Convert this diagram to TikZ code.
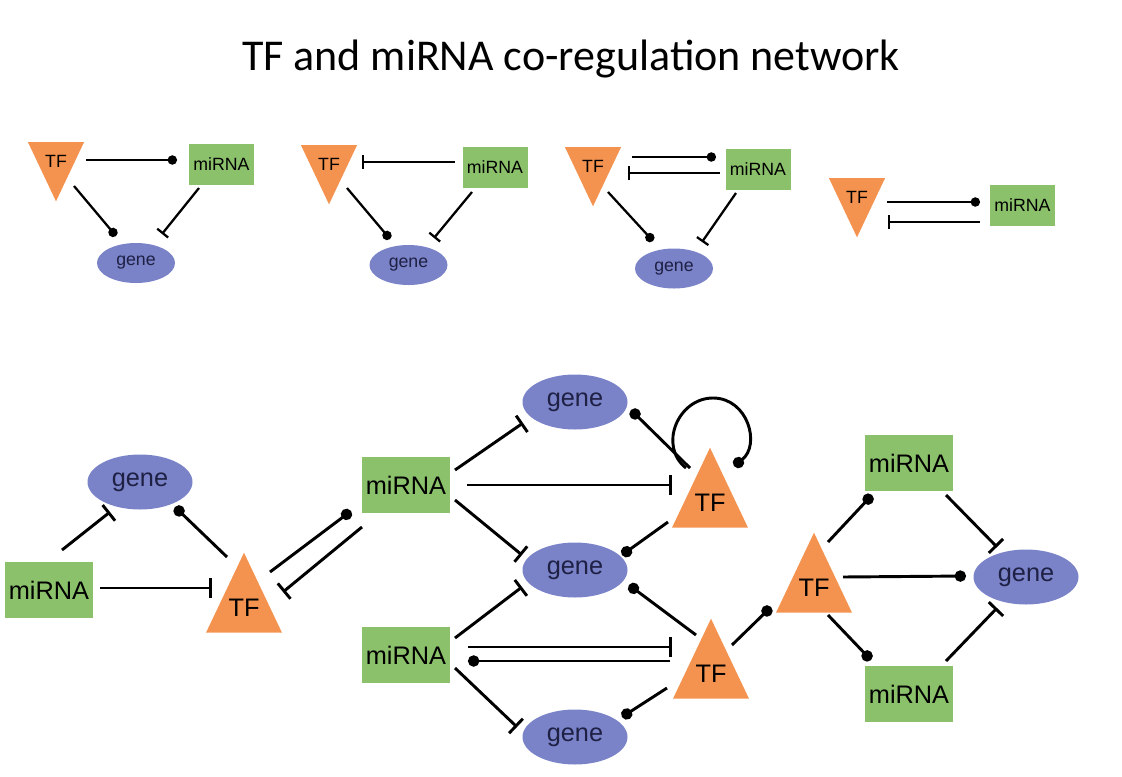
\documentclass[tikz,border=0pt]{standalone}
\usepackage{fontspec}
\setmainfont{Liberation Sans}
\newfontfamily\titlefont{Carlito}
\usetikzlibrary{shapes.geometric, arrows.meta}

\definecolor{tforange}{HTML}{F4934F}
\definecolor{mirgreen}{HTML}{8BC16B}
\definecolor{geneblue}{HTML}{7A82C8}
\definecolor{genetext}{HTML}{1E2044}

% small motifs (top row)
\tikzstyle{tfsmall} = [isosceles triangle, isosceles triangle stretches, shape border rotate=-90, minimum width=42pt, minimum height=44.3pt, inner sep=0pt, text height=15.5pt, fill=tforange, font=\fontsize{13.3}{15}\selectfont]
\tikzstyle{mirsmall} = [rectangle, minimum width=48.75pt, minimum height=30.75pt, inner sep=0pt, fill=mirgreen, font=\fontsize{13.3}{15}\selectfont]
\tikzstyle{genesmall} = [ellipse, minimum width=58.5pt, minimum height=30pt, inner sep=0pt, fill=geneblue, text=genetext, font=\fontsize{13.3}{15}\selectfont]
\tikzstyle{acts} = [line width=1.7pt, -{Circle[length=7pt]}]
\tikzstyle{inhs} = [line width=1.7pt, -{Bar[width=10.5pt]}]

% big network (bottom)
\tikzstyle{tfbig} = [isosceles triangle, isosceles triangle stretches, shape border rotate=90, minimum width=57pt, minimum height=60pt, inner sep=0pt, text depth=8pt, fill=tforange, font=\fontsize{19}{22}\selectfont]
\tikzstyle{mirbig} = [rectangle, minimum width=66pt, minimum height=42pt, inner sep=0pt, fill=mirgreen, font=\fontsize{19}{22}\selectfont]
\tikzstyle{genebig} = [ellipse, minimum width=78.75pt, minimum height=41.25pt, inner sep=0pt, fill=geneblue, text=genetext, font=\fontsize{19}{22}\selectfont]
\tikzstyle{actb} = [line width=2.2pt, -{Circle[length=8.5pt]}]
\tikzstyle{inhb} = [line width=2.2pt, -{Bar[width=15pt]}]

\begin{document}
\begin{tikzpicture}[x=0.75pt, y=-0.75pt]
	\useasboundingbox (0,0) rectangle (1122,776);

	\node (title) [anchor=base, font=\titlefont\fontsize{33}{40}\selectfont] at (571,70) {TF and miRNA co-regulation network};

	% top row
	\node (ta1) [tfsmall, anchor=apex] at (56,202) {TF};
	\node (ma1) [mirsmall] at (221.5,164.5) {miRNA};
	\node (ga1) [genesmall] at (136,263) {gene};

	\node (ta2) [tfsmall, anchor=apex] at (329,205) {TF};
	\node (ma2) [mirsmall] at (495,167) {miRNA};
	\node (ga2) [genesmall] at (408.5,265) {gene};

	\node (ta3) [tfsmall, anchor=apex] at (593,207) {TF};
	\node (ma3) [mirsmall] at (758,169) {miRNA};
	\node (ga3) [genesmall] at (674,268.5) {gene};

	\node (ta4) [tfsmall, anchor=apex] at (857,238) {TF};
	\node (ma4) [mirsmall] at (1022.5,205) {miRNA};

	\draw [acts] ([shift={(30,-42)}]ta1.apex) -- ([shift={(-44.5,-4.5)}]ma1.center);
	\draw [acts] ([shift={(18,-16)}]ta1.apex) -- ([shift={(-20,-27)}]ga1.center);
	\draw [inhs] ([shift={(-22.5,23.5)}]ma1.center) -- ([shift={(26,-29)}]ga1.center);

	\draw [inhs] ([shift={(-40,-5)}]ma2.center) -- ([shift={(33,-43)}]ta2.apex);
	\draw [acts] ([shift={(18,-17)}]ta2.apex) -- ([shift={(-18.5,-26)}]ga2.center);
	\draw [inhs] ([shift={(-23,25)}]ma2.center) -- ([shift={(25.5,-27)}]ga2.center);

	\draw [acts] ([shift={(39,-50)}]ta3.apex) -- ([shift={(-42,-12)}]ma3.center);
	\draw [inhs] ([shift={(-38,4)}]ma3.center) -- ([shift={(35,-34)}]ta3.apex);
	\draw [acts] ([shift={(15,-15)}]ta3.apex) -- ([shift={(-21,-27.5)}]ga3.center);
	\draw [inhs] ([shift={(-22,24)}]ma3.center) -- ([shift={(28,-26.5)}]ga3.center);

	\draw [acts] ([shift={(30,-36)}]ta4.apex) -- ([shift={(-42.5,-3)}]ma4.center);
	\draw [inhs] ([shift={(-42.5,17)}]ma4.center) -- ([shift={(31,-16)}]ta4.apex);

	% bottom network
	\node (bm1) [mirbig] at (49,590) {miRNA};
	\node (bg1) [genebig] at (140,482) {gene};
	\node (bt1) [tfbig, anchor=apex] at (244,552) {TF};

	\node (bm2) [mirbig] at (406,485) {miRNA};
	\node (bm3) [mirbig] at (406,655) {miRNA};
	\node (bg2) [genebig] at (575,402) {gene};
	\node (bg3) [genebig] at (575,570) {gene};
	\node (bg4) [genebig] at (575,737) {gene};
	\node (bt2) [tfbig, anchor=apex] at (710,447) {TF};
	\node (bt3) [tfbig, anchor=apex] at (711,618) {TF};

	\node (bt4) [tfbig, anchor=apex] at (814,532) {TF};
	\node (bm4) [mirbig] at (909,463) {miRNA};
	\node (bm5) [mirbig] at (909,694) {miRNA};
	\node (bg5) [genebig] at (1026,577) {gene};

	\draw [inhb] ([shift={(13,-40)}]bm1.center) -- ([shift={(-30,30)}]bg1.center);
	\draw [actb] ([shift={(-17,5)}]bt1.apex) -- ([shift={(35,25)}]bg1.center);
	\draw [inhb] ([shift={(51,-2)}]bm1.center) -- ([shift={(-32,36)}]bt1.apex);
	\draw [actb] ([shift={(26,20)}]bt1.apex) -- ([shift={(-55,26)}]bm2.center);
	\draw [inhb] ([shift={(-44,42)}]bm2.center) -- ([shift={(39,40)}]bt1.apex);

	\draw [inhb] ([shift={(49,-15)}]bm2.center) -- ([shift={(-52,21)}]bg2.center);
	\draw [inhb] ([shift={(61,0)}]bm2.center) -- ([shift={(-38,38)}]bt2.apex);
	\draw [inhb] ([shift={(49,15)}]bm2.center) -- ([shift={(-53,-15)}]bg3.center);
	\draw [actb] ([shift={(-20,21)}]bt2.apex) -- ([shift={(56,8)}]bg2.center);
	\draw [actb] ([shift={(-24,21)}]bt2.apex) .. controls +(-28,-22) and +(-35,0) .. ([shift={(3,-49)}]bt2.apex)
		.. controls +(35,0) and +(27,-21) .. ([shift={(24,19)}]bt2.apex);
	\draw [actb] ([shift={(-42,75)}]bt2.apex) -- ([shift={(47,-15)}]bg3.center);

	\draw [inhb] ([shift={(49,-17)}]bm3.center) -- ([shift={(-53,17)}]bg3.center);
	\draw [actb] ([shift={(-15,17)}]bt3.apex) -- ([shift={(54,15)}]bg3.center);
	\draw [inhb] ([shift={(62,-8)}]bm3.center) -- ([shift={(-39,29)}]bt3.apex);
	\draw [actb] ([shift={(-41,43)}]bt3.apex) -- ([shift={(62,6)}]bm3.center);
	\draw [inhb] ([shift={(49,13)}]bm3.center) -- ([shift={(-58,-10)}]bg4.center);
	\draw [actb] ([shift={(-44,70)}]bt3.apex) -- ([shift={(47,-20)}]bg4.center);

	\draw [actb] ([shift={(21,27)}]bt3.apex) -- ([shift={(-43,75)}]bt4.apex);
	\draw [actb] ([shift={(14,10)}]bt4.apex) -- ([shift={(-37,32)}]bm4.center);
	\draw [actb] ([shift={(29,45)}]bt4.apex) -- ([shift={(-60,-1)}]bg5.center);
	\draw [actb] ([shift={(14,83)}]bt4.apex) -- ([shift={(-38,-34)}]bm5.center);
	\draw [inhb] ([shift={(37,32)}]bm4.center) -- ([shift={(-29,-30)}]bg5.center);
	\draw [inhb] ([shift={(37,-33)}]bm5.center) -- ([shift={(-29,31)}]bg5.center);
\end{tikzpicture}
\end{document}
